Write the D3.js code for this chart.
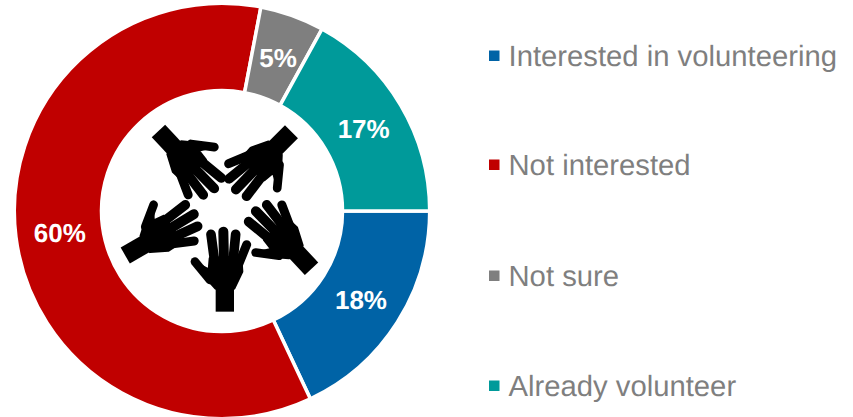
<!DOCTYPE html>
<html><head><meta charset="utf-8">
<script src="https://cdn.jsdelivr.net/npm/d3@7/dist/d3.min.js"></script>
<style>html,body{margin:0;padding:0;background:#fff}svg{display:block}text{text-rendering:geometricPrecision}</style>
</head><body><svg id="c" width="853" height="417"></svg>
<script>
const categories = ["Interested in volunteering","Not interested","Not sure","Already volunteer"];
const values = [18,60,5,17];
const labels = ["18%","60%","5%","17%"];
const colors = ["#0063a6","#c00000","#7f7f7f","#009a9a"];
const legendRows = [56,165,276,386];
const handFingers = [
  {p:[[-45,-95],[-90,-150]],w:26},
  {p:[[-31,-150],[-42,-232]],w:29},
  {p:[[-3,-150],[-5,-240]],w:30},
  {p:[[24,-150],[32,-232]],w:29},
  {p:[[40,-140],[65,-201]],w:27}
];
const handPalm = [[-28,-70],[-60,-105],[-85,-145],[-48,-125],[-45,-160],[48,-165],[51,-120],[27,-70]];
const handPlacements = [
  {zx:345,zy:605,r:0},{zx:46,zy:437,r:60},{zx:145,zy:63,r:137},{zx:544,zy:65,r:225},{zx:605,zy:476,r:317}
];
const svg = d3.select("#c");
const cx=222, cy=211, R=207.7, r0=120.5;
const pie = d3.pie().value(d=>d).sort(null).startAngle(Math.PI/2).endAngle(Math.PI*2.5);
const arc = d3.arc().innerRadius(r0).outerRadius(R);
const labelArc = d3.arc().innerRadius(122).outerRadius(206);
const g = svg.append("g").attr("transform",`translate(${cx},${cy})`);
g.selectAll("path").data(pie(values)).join("path")
  .attr("d",arc).attr("fill",(d,i)=>colors[i]).attr("stroke","#fff").attr("stroke-width",3.5);
g.selectAll("text").data(pie(values)).join("text")
  .attr("x",d=>labelArc.centroid(d)[0]+0.5).attr("y",d=>labelArc.centroid(d)[1]+1)
  .attr("text-anchor","middle").attr("dominant-baseline","central")
  .attr("font-family","Liberation Sans").attr("font-weight","bold").attr("font-size",26)
  .attr("fill","#fff").text((d,i)=>labels[i]);
const line = d3.line().curve(d3.curveLinear);
const hands = svg.append("g").selectAll("g").data(handPlacements).join("g")
  .attr("transform",d=>`translate(${110+d.zx/3},${110+d.zy/3}) rotate(${d.r}) scale(${1/3})`);
hands.append("rect").attr("x",-28).attr("y",-75).attr("width",55).attr("height",75).attr("fill","#000");
hands.append("path").attr("d",line(handPalm)+"Z").attr("fill","#000").attr("stroke","#000").attr("stroke-width",8).attr("stroke-linejoin","round");
hands.selectAll("path.f").data(handFingers).join("path").attr("class","f")
  .attr("d",d=>line(d.p)).attr("stroke","#000").attr("stroke-width",d=>d.w).attr("stroke-linecap","round").attr("fill","none");
const leg = svg.append("g").selectAll("g").data(categories).join("g")
  .attr("transform",(d,i)=>`translate(0,${legendRows[i]})`);
leg.append("rect").attr("x",489).attr("y",-5.5).attr("width",10.5).attr("height",10.5).attr("fill",(d,i)=>colors[i]);
leg.append("text").attr("x",508.5).attr("y",10).attr("font-family","Liberation Sans").attr("font-size",29.25)
  .attr("fill","#7f7f7f").text(d=>d);
</script></body></html>
